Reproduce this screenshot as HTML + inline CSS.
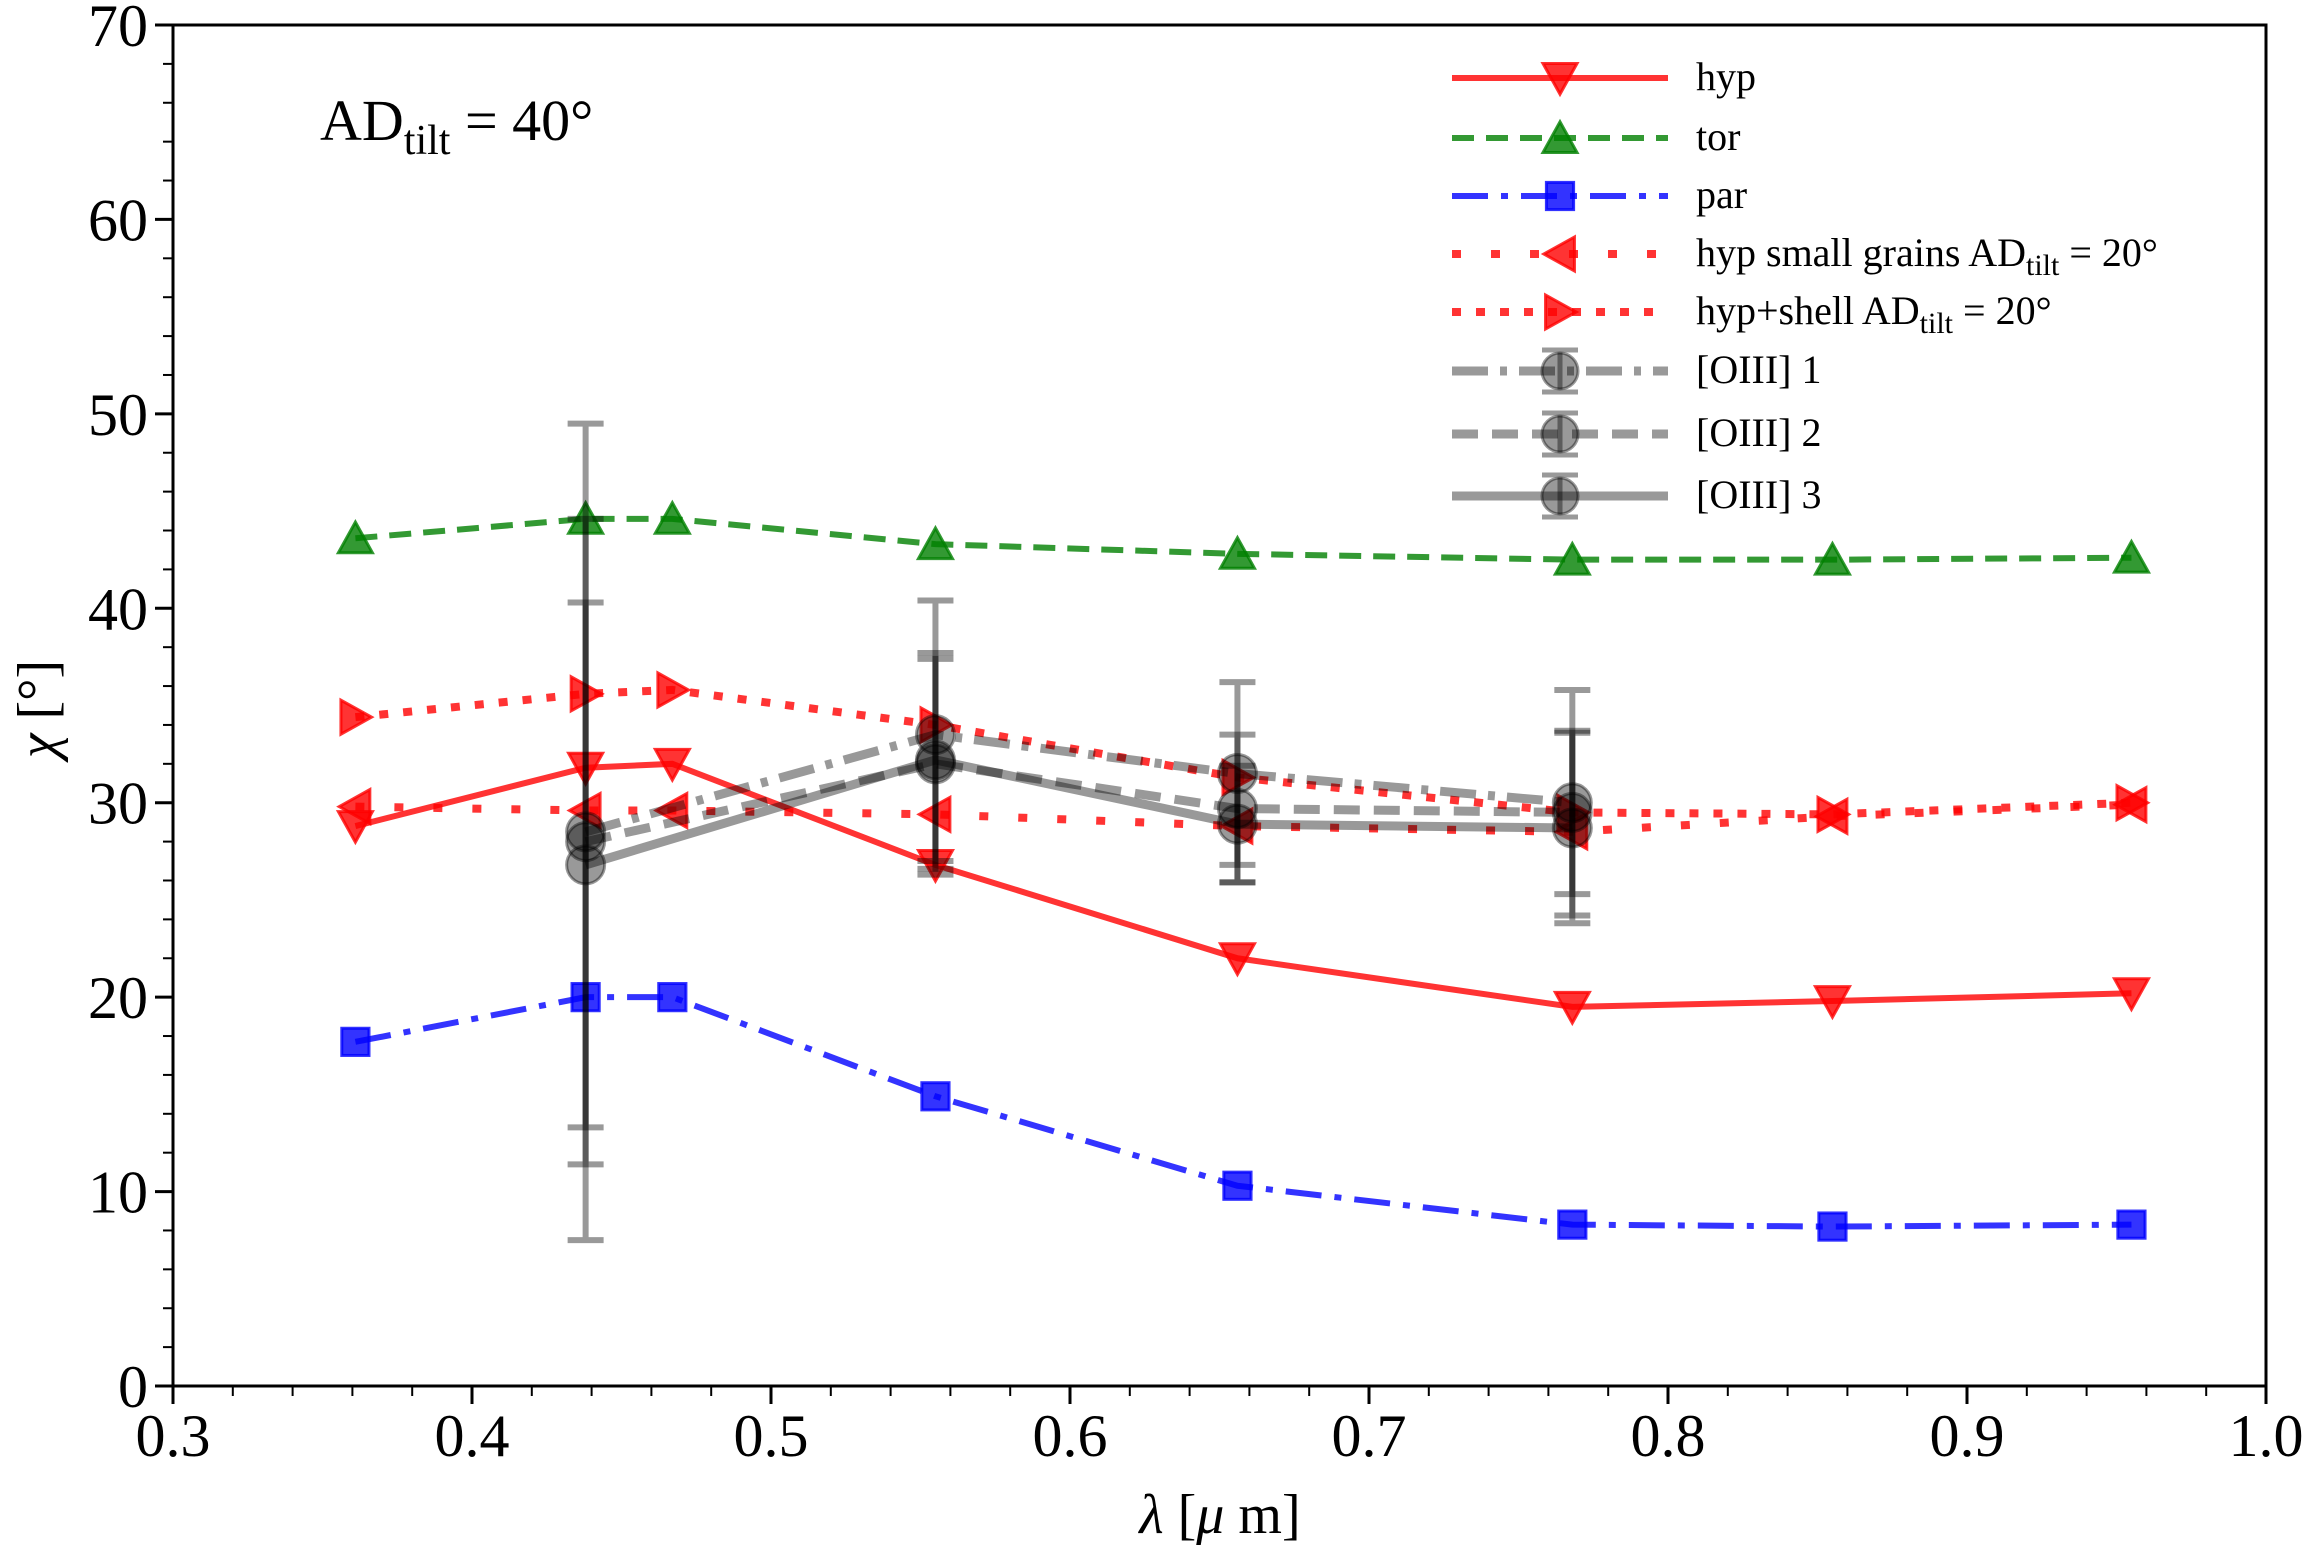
<!DOCTYPE html>
<html><head><meta charset="utf-8"><style>
html,body{margin:0;padding:0;background:#fff}
svg{display:block;font-family:"Liberation Serif",serif}
</style></head><body>
<svg id="chart" width="2309" height="1551" viewBox="0 0 2309 1551" xmlns="http://www.w3.org/2000/svg">
<g id="grid"></g>
<g id="series"></g>
<g id="axes"></g>
<g id="legend"></g>
</svg>
<script>
const lambdas = [0.361, 0.438, 0.467, 0.555, 0.656, 0.768, 0.855, 0.955];
const hyp = [28.8, 31.8, 32.0, 26.8, 22.0, 19.5, 19.8, 20.2];
const tor = [43.6, 44.6, 44.6, 43.3, 42.8, 42.5, 42.5, 42.6];
const par = [17.7, 20.0, 20.0, 14.9, 10.3, 8.3, 8.2, 8.3];
const hypSmall = [29.8, 29.6, 29.6, 29.4, 28.8, 28.5, 29.3, 29.9];
const hypShell = [34.4, 35.6, 35.8, 34.0, 31.3, 29.5, 29.4, 30.0];
const oiiiX = [0.438, 0.555, 0.656, 0.768];
const oiii1 = [28.5, 33.5, 31.5, 30.0];
const oiii1Err = [21.0, 6.9, 4.7, 5.8];
const oiii2 = [28.0, 32.0, 29.7, 29.5];
const oiii2Err = [16.6, 5.7, 3.8, 4.2];
const oiii3 = [26.8, 32.2, 28.9, 28.7];
const oiii3Err = [13.5, 5.2, 3.0, 4.9];
const xTicks = [0.3, 0.4, 0.5, 0.6, 0.7, 0.8, 0.9, 1.0];
const xTickLabels = ["0.3","0.4","0.5","0.6","0.7","0.8","0.9","1.0"];
const yTicks = [0, 10, 20, 30, 40, 50, 60, 70];
const yTickLabels = ["0","10","20","30","40","50","60","70"];

const L=173,R=2266,T=25,B=1386;
const X0=0.3,X1=1.0,Y0=0,Y1=70;
function sx(v){return L+(v-X0)/(X1-X0)*(R-L);}
function sy(v){return B-(v-Y0)/(Y1-Y0)*(B-T);}
const NS="http://www.w3.org/2000/svg";
function mk(tag,attrs,parent){const e=document.createElementNS(NS,tag);for(const k in attrs)e.setAttribute(k,attrs[k]);parent.appendChild(e);return e;}
const gS=document.getElementById('series'),gA=document.getElementById('axes'),gL=document.getElementById('legend');

function marker(type,x,y,s,fill,parent){
  let e;
  if(type==='v') e=mk('polygon',{points:`${x-s},${y-s*0.85} ${x+s},${y-s*0.85} ${x},${y+s*0.95}`},parent);
  else if(type==='^') e=mk('polygon',{points:`${x-s},${y+s*0.85} ${x+s},${y+s*0.85} ${x},${y-s*0.95}`},parent);
  else if(type==='<') e=mk('polygon',{points:`${x+s*0.85},${y-s} ${x+s*0.85},${y+s} ${x-s*0.95},${y}`},parent);
  else if(type==='>') e=mk('polygon',{points:`${x-s*0.85},${y-s} ${x-s*0.85},${y+s} ${x+s*0.95},${y}`},parent);
  else if(type==='s') e=mk('rect',{x:x-s*0.8,y:y-s*0.8,width:s*1.6,height:s*1.6},parent);
  else e=mk('circle',{cx:x,cy:y,r:s},parent);
  e.setAttribute('fill',fill);e.setAttribute('stroke',fill);e.setAttribute('stroke-width',3);
  return e;
}

function series(name,xs,ys,color,dash,lw,mtype,ms){
  const g=mk('g',{},gS);
  
  
  const pts=xs.map((v,i)=>sx(v)+','+sy(ys[i])).join(' ');
  const pl=mk('polyline',{points:pts,fill:'none',stroke:color,'stroke-width':lw,'stroke-dasharray':dash,'stroke-opacity':0.8},g);
  
  
  xs.forEach((v,i)=>{
    const m=marker(mtype,sx(v),sy(ys[i]),ms,color,g);
    m.setAttribute('fill-opacity',0.8);m.setAttribute('stroke-opacity',0.8);
    
    
  });
}

function oiii(name,ys,errs,dash){
  const g=mk('g',{},gS);
  
  
  const pts=oiiiX.map((v,i)=>sx(v)+','+sy(ys[i])).join(' ');
  const pl=mk('polyline',{points:pts,fill:'none',stroke:'#000','stroke-opacity':0.4,'stroke-width':9,'stroke-dasharray':dash},g);
  
  
  oiiiX.forEach((v,i)=>{
    const x=sx(v),y1=sy(ys[i]+errs[i]),y2=sy(ys[i]-errs[i]);
    const eb=mk('path',{d:`M${x},${y1}V${y2}M${x-18},${y1}H${x+18}M${x-18},${y2}H${x+18}`,stroke:'#000','stroke-opacity':0.4,'stroke-width':6,fill:'none'},g);
    
    
    const c=mk('circle',{cx:x,cy:sy(ys[i]),r:19,fill:'#000','fill-opacity':0.4,stroke:'#000','stroke-opacity':0.4,'stroke-width':3},g);
    
    
  });
}

series('hyp',lambdas,hyp,'#ff0000','none',6,'v',17);
series('tor',lambdas,tor,'#008000','22,12',6,'^',17);
series('par',lambdas,par,'#0000ff','36,13,7,13',6,'s',17);
series('hyp-small-grains',lambdas,hypSmall,'#ff0000','9,30',8,'<',17);
series('hyp-shell',lambdas,hypShell,'#ff0000','9,15',8,'>',17);
oiii('oiii-1',oiii1,oiii1Err,'36,12,7,12');
oiii('oiii-2',oiii2,oiii2Err,'26,14');
oiii('oiii-3',oiii3,oiii3Err,'none');

const fr=mk('rect',{x:L,y:T,width:R-L,height:B-T,fill:'none',stroke:'#000','stroke-width':3},gA);


xTicks.forEach((v,i)=>{
  mk('line',{x1:sx(v),x2:sx(v),y1:B,y2:B+18,stroke:'#000','stroke-width':3},gA);
  const t=mk('text',{x:sx(v),y:B+70,'font-size':60,'text-anchor':'middle'},gA);
  t.textContent=xTickLabels[i];
  
  
});
for(let v=0.32;v<1.0;v+=0.02){ if(Math.abs(v*10-Math.round(v*10))>0.01) mk('line',{x1:sx(v),x2:sx(v),y1:B,y2:B+10,stroke:'#000','stroke-width':2},gA);}
yTicks.forEach((v,i)=>{
  mk('line',{x1:L-18,x2:L,y1:sy(v),y2:sy(v),stroke:'#000','stroke-width':3},gA);
  const t=mk('text',{x:L-25,y:sy(v)+21,'font-size':60,'text-anchor':'end'},gA);
  t.textContent=yTickLabels[i];
  
  
});
for(let v=2;v<70;v+=2){ if(v%10) mk('line',{x1:L-10,x2:L,y1:sy(v),y2:sy(v),stroke:'#000','stroke-width':2},gA);}
const xl=mk('text',{x:1220,y:1533,'font-size':56,'text-anchor':'middle'},gA);
xl.innerHTML='<tspan font-style="italic">λ</tspan> [<tspan font-style="italic">μ</tspan> m]';


const yl=mk('text',{x:0,y:0,'font-size':56,'text-anchor':'middle',transform:'translate(56,709) rotate(-90)'},gA);
yl.innerHTML='<tspan font-style="italic">χ</tspan> [°]';


const an=mk('text',{x:320,y:140,'font-size':58},gA);
an.innerHTML='AD<tspan font-size="42" dy="14">tilt</tspan><tspan dy="-14"> = 40°</tspan>';



const leg=[
 ['hyp','#ff0000','none',6,'v','hyp'],
 ['tor','#008000','22,12',6,'^','tor'],
 ['par','#0000ff','36,13,7,13',6,'s','par'],
 ['small','#ff0000','9,30',8,'<','hyp small grains AD<tspan font-size="30" dy="9">tilt</tspan><tspan dy="-9"> = 20°</tspan>'],
 ['shell','#ff0000','9,15',8,'>','hyp+shell AD<tspan font-size="30" dy="9">tilt</tspan><tspan dy="-9"> = 20°</tspan>'],
 ['oiii1','#000','36,12,7,12',9,'o','[OIII] 1'],
 ['oiii2','#000','26,14',9,'o','[OIII] 2'],
 ['oiii3','#000','none',9,'o','[OIII] 3']];
const ly=[78,138,196,254,312,371,434,496];
leg.forEach((d,i)=>{
  const g=mk('g',{},gL);
  
  
  const y=ly[i],x1=1452,x2=1668,xm=1560;
  const op=d[4]==='o'?0.4:0.8;
  mk('line',{x1:x1,x2:x2,y1:y,y2:y,stroke:d[1],'stroke-width':d[3],'stroke-dasharray':d[2],'stroke-opacity':op},g);
  if(d[4]==='o'){
    mk('path',{d:`M${xm},${y-21}V${y+21}M${xm-18},${y-21}H${xm+18}M${xm-18},${y+21}H${xm+18}`,stroke:'#000','stroke-opacity':0.4,'stroke-width':5},g);
    mk('circle',{cx:xm,cy:y,r:18,fill:'#000','fill-opacity':0.4,stroke:'#000','stroke-opacity':0.4,'stroke-width':3},g);
  } else {
    const m=marker(d[4],xm,y,17,d[1],g);m.setAttribute('fill-opacity',0.8);m.setAttribute('stroke-opacity',0.8);
  }
  const t=mk('text',{x:1696,y:y+12,'font-size':40},g);
  t.innerHTML=d[5];
});
</script>
</body></html>
